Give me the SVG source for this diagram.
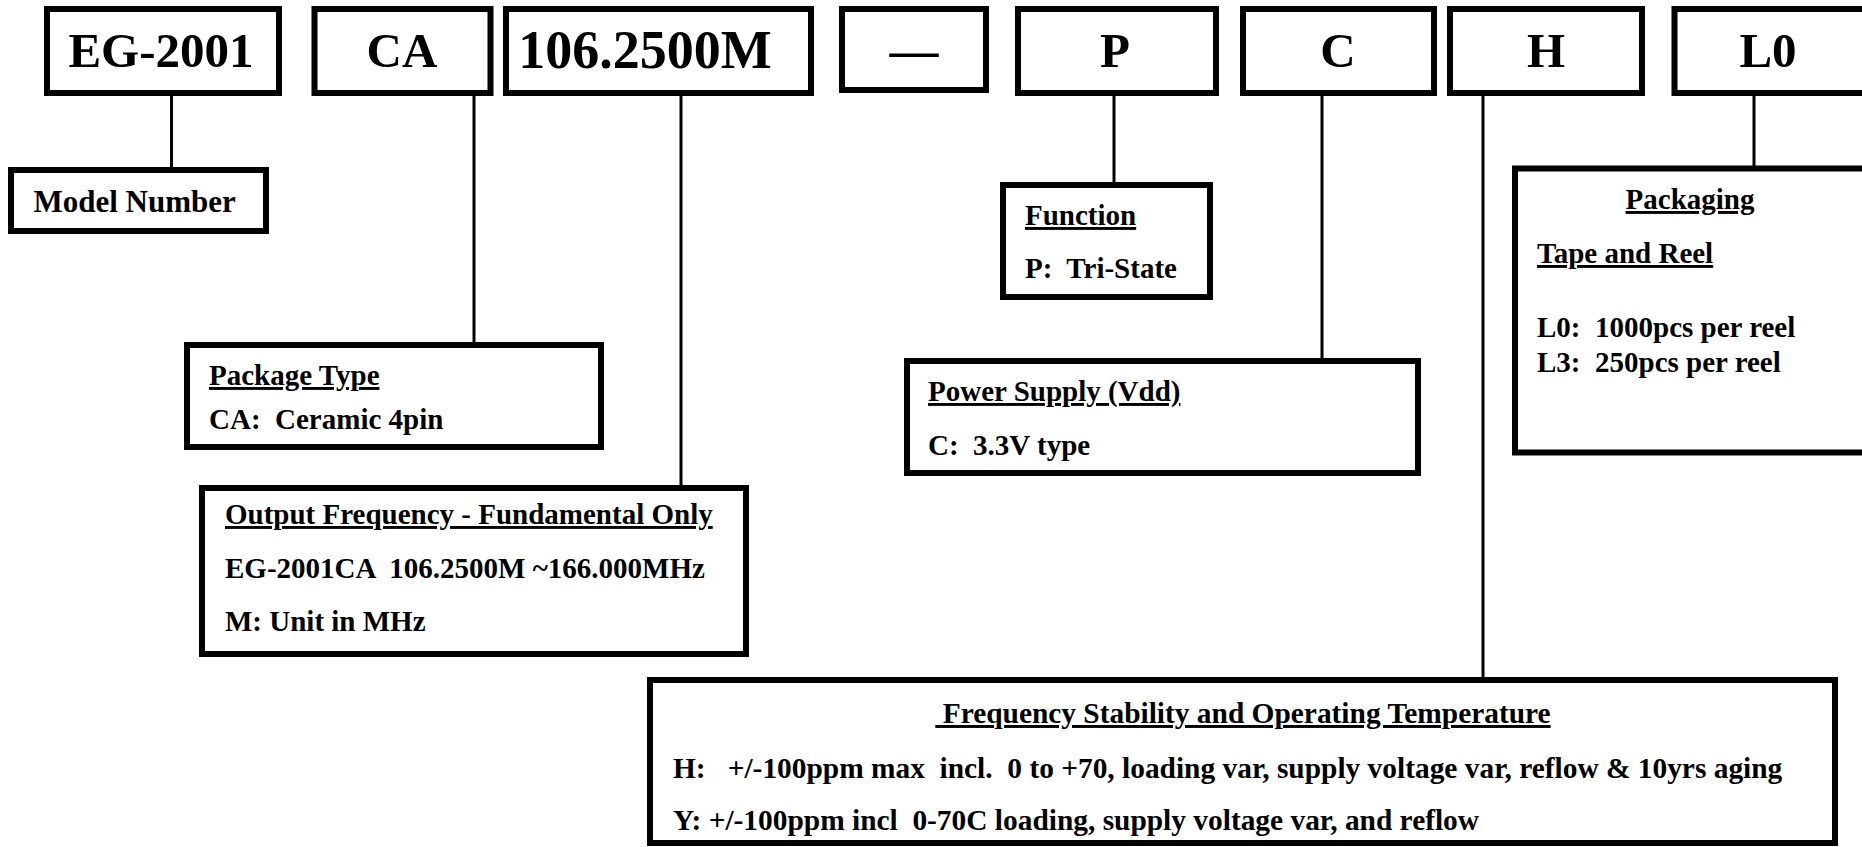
<svg xmlns="http://www.w3.org/2000/svg" width="1862" height="847" viewBox="0 0 1862 847">
<style>
text{font-family:"Liberation Serif","Times New Roman",serif;font-weight:bold;fill:#000;white-space:pre}
.box{fill:#fff;stroke:#000;stroke-width:6}
.big{font-size:49px;text-anchor:middle}
.t{font-size:29px}
.f{font-size:29.4px}
.u{text-decoration:underline}
.conn line{stroke:#000;stroke-width:3}
</style>
<rect x="0" y="0" width="1862" height="847" fill="#fff"/>
<g class="conn" id="connectors">
<line x1="171.5" y1="90" x2="171.5" y2="170"/>
<line x1="474" y1="90" x2="474" y2="345"/>
<line x1="681" y1="90" x2="681" y2="488"/>
<line x1="1114" y1="90" x2="1114" y2="185"/>
<line x1="1322" y1="90" x2="1322" y2="361"/>
<line x1="1483" y1="90" x2="1483" y2="680"/>
<line x1="1754" y1="90" x2="1754" y2="168"/>
</g>
<g id="code-eg2001"><rect class="box" x="47" y="9" width="232" height="84"/><text class="big" x="161" y="67">EG-2001</text></g>
<g id="code-ca"><rect class="box" x="314.5" y="9" width="176" height="84"/><text class="big" x="402" y="67">CA</text></g>
<g id="code-freq"><rect class="box" x="506" y="9" width="305" height="84"/><text class="big" x="645" y="68" style="font-size:54px">106.2500M</text></g>
<g id="code-dash"><rect class="box" x="842" y="9" width="144" height="81"/><text class="big" x="914" y="67">—</text></g>
<g id="code-p"><rect class="box" x="1018" y="9" width="198" height="84"/><text class="big" x="1115" y="67">P</text></g>
<g id="code-c"><rect class="box" x="1243" y="9" width="191" height="84"/><text class="big" x="1338" y="67">C</text></g>
<g id="code-h"><rect class="box" x="1450" y="9" width="192" height="84"/><text class="big" x="1546" y="67">H</text></g>
<g id="code-l0"><rect class="box" x="1674.5" y="9" width="210" height="84"/><text class="big" x="1768" y="67">L0</text></g>
<g id="model-number"><rect class="box" x="11" y="170" width="255" height="61"/><text style="font-size:31px" x="33.5" y="212">Model Number</text></g>
<g id="package-type"><rect class="box" x="187" y="345" width="414" height="102"/><text class="t u" x="209" y="385">Package Type</text><text class="t" x="209" y="429">CA:  Ceramic 4pin</text></g>
<g id="output-frequency"><rect class="box" x="202" y="488" width="544" height="166"/><text class="t u" x="225" y="524">Output Frequency - Fundamental Only</text><text class="t" x="225" y="578">EG-2001CA  106.2500M ~166.000MHz</text><text class="t" x="225" y="631">M: Unit in MHz</text></g>
<g id="function"><rect class="box" x="1003" y="185" width="207" height="112"/><text class="t u" x="1025" y="225">Function</text><text class="t" x="1025" y="278">P:  Tri-State</text></g>
<g id="power-supply"><rect class="box" x="907" y="361" width="511" height="112"/><text class="t u" x="928" y="401">Power Supply (Vdd)</text><text class="t" x="928" y="455">C:  3.3V type</text></g>
<g id="packaging"><rect class="box" x="1515" y="168.5" width="350" height="284"/><text class="t u" x="1690" y="209" text-anchor="middle">Packaging</text><text class="t u" x="1537" y="263">Tape and Reel</text><text class="t" x="1537" y="337">L0:  1000pcs per reel</text><text class="t" x="1537" y="372">L3:  250pcs per reel</text></g>
<g id="frequency-stability"><rect class="box" x="650" y="680" width="1185" height="163"/><text class="f u" x="1243" y="723" text-anchor="middle"> Frequency Stability and Operating Temperature</text><text class="f" x="673" y="778">H:   +/-100ppm max  incl.  0 to +70, loading var, supply voltage var, reflow &amp; 10yrs aging</text><text class="f" x="673" y="830">Y: +/-100ppm incl  0-70C loading, supply voltage var, and reflow</text></g>
</svg>
